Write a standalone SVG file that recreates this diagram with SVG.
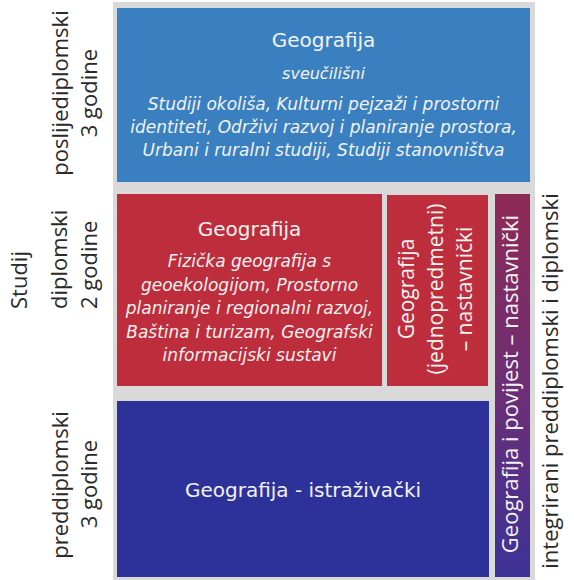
<svg xmlns="http://www.w3.org/2000/svg" width="574" height="580" viewBox="0 0 574 580">
  <defs>
    <linearGradient id="purpleGrad" x1="0" y1="0" x2="0" y2="1">
      <stop offset="0" stop-color="#8e2a55"/>
      <stop offset="0.55" stop-color="#6a2e78"/>
      <stop offset="1" stop-color="#3c3296"/>
    </linearGradient>
    <style>
      .lbl { font-family: "Open Sans", "DejaVu Sans", sans-serif; font-size: 22px; fill: #2a2a2a; }
      .vt { font-family: "Open Sans", "DejaVu Sans", sans-serif; font-size: 22px; fill: #f2f2f2; }
      .ttl { font-family: "DejaVu Sans", "Liberation Sans", sans-serif; font-size: 20px; fill: #f2f2f2; text-anchor: middle; }
      .it { font-family: "DejaVu Sans", "Liberation Sans", sans-serif; font-size: 17px; font-style: italic; fill: #f2f2f2; text-anchor: middle; }
      .mid { text-anchor: middle; }
      .start { text-anchor: start; }
    </style>
  </defs>
  <rect x="0" y="0" width="574" height="580" fill="#ffffff"/>
  <rect id="backdrop" x="113" y="2" width="422" height="578" fill="#d9d9d9"/>

  <g id="connectors"/>

  <g id="label-poslijediplomski">
    <text class="lbl mid" transform="translate(68,93) rotate(-90)">poslijediplomski</text>
    <text class="lbl mid" transform="translate(97,93) rotate(-90)">3 godine</text>
  </g>
  <g id="label-studij">
    <text class="lbl start" transform="translate(27,309) rotate(-90)">Studij</text>
  </g>
  <g id="label-diplomski">
    <text class="lbl start" transform="translate(67,309) rotate(-90)">diplomski</text>
    <text class="lbl start" transform="translate(97,309) rotate(-90)">2 godine</text>
  </g>
  <g id="label-preddiplomski">
    <text class="lbl mid" transform="translate(68,485) rotate(-90)">preddiplomski</text>
    <text class="lbl mid" transform="translate(97,484) rotate(-90)">3 godine</text>
  </g>

  <g id="node-poslijediplomski">
    <rect x="117" y="8" width="413" height="174" fill="#3a80c0"/>
    <text class="ttl" x="323.5" y="47">Geografija</text>
    <text class="it" x="323.5" y="79" style="font-size:16px">sveučilišni</text>
    <text class="it" x="323.5" y="110">Studiji okoliša, Kulturni pejzaži i prostorni</text>
    <text class="it" x="323.5" y="133">identiteti, Održivi razvoj i planiranje prostora,</text>
    <text class="it" x="323.5" y="156">Urbani i ruralni studiji, Studiji stanovništva</text>
  </g>

  <g id="node-diplomski">
    <rect x="117" y="194" width="265" height="192" fill="#be2d3c"/>
    <text class="ttl" x="249.5" y="236">Geografija</text>
    <text class="it" x="249.5" y="267">Fizička geografija s</text>
    <text class="it" x="249.5" y="291">geoekologijom, Prostorno</text>
    <text class="it" x="249.5" y="314">planiranje i regionalni razvoj,</text>
    <text class="it" x="249.5" y="338">Baština i turizam, Geografski</text>
    <text class="it" x="249.5" y="361">informacijski sustavi</text>
  </g>

  <g id="node-nastavnicki">
    <rect x="387" y="195" width="101" height="191" fill="#be2d3c"/>
    <text class="vt mid" style="font-size:21px" transform="translate(414,289) rotate(-90)">Geografija</text>
    <text class="vt mid" style="font-size:21px" transform="translate(443,289) rotate(-90)">(jednopredmetni)</text>
    <text class="vt mid" style="font-size:21px" transform="translate(472,289) rotate(-90)">– nastavnički</text>
  </g>

  <g id="node-integrirani">
    <rect x="495" y="194" width="35" height="383" fill="url(#purpleGrad)"/>
    <text class="vt mid" transform="translate(518,384) rotate(-90)">Geografija i povijest – nastavnički</text>
  </g>

  <g id="node-preddiplomski">
    <rect x="117" y="401" width="372" height="176" fill="#2d329b"/>
    <text class="ttl" x="303" y="497">Geografija - istraživački</text>
  </g>

  <g id="label-integrirani">
    <text class="lbl mid" transform="translate(558,381) rotate(-90)">integrirani preddiplomski i diplomski</text>
  </g>
</svg>
